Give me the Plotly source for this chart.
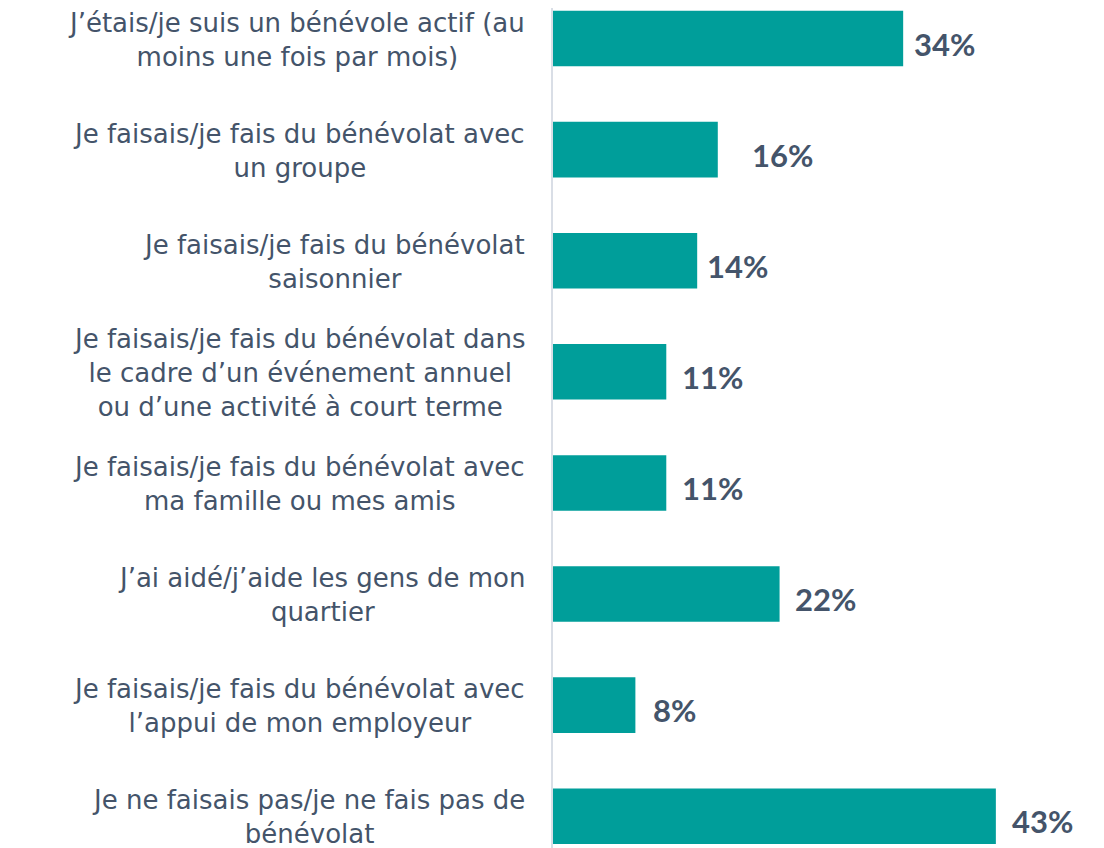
import plotly.graph_objects as go

categories = [
    "J’étais/je suis un bénévole actif (au<br>moins une fois par mois)",
    "Je faisais/je fais du bénévolat avec<br>un groupe",
    "Je faisais/je fais du bénévolat<br>saisonnier",
    "Je faisais/je fais du bénévolat dans<br>le cadre d’un événement annuel<br>ou d’une activité à court terme",
    "Je faisais/je fais du bénévolat avec<br>ma famille ou mes amis",
    "J’ai aidé/j’aide les gens de mon<br>quartier",
    "Je faisais/je fais du bénévolat avec<br>l’appui de mon employeur",
    "Je ne faisais pas/je ne fais pas de<br>bénévolat",
]
values = [34, 16, 14, 11, 11, 22, 8, 43]
value_labels = ["34%", "16%", "14%", "11%", "11%", "22%", "8%", "43%"]

# gap between bar end and value label (px), as in the original
label_gap = [9, 32, 8, 14, 14, 13, 16, 14]

teal = "#009E9A"
slate = "#44546A"

fig = go.Figure(go.Bar(
    x=values, y=categories, orientation="h",
    marker=dict(color=teal, line=dict(width=0)),
    width=0.5, hoverinfo="skip",
))

for c, v, t, g in zip(categories, values, value_labels, label_gap):
    fig.add_annotation(x=v, y=c, text=t, showarrow=False, xanchor="left",
                       xshift=g, yshift=-5,
                       font=dict(family="Lato", size=31, color=slate, weight="bold"))
    fig.add_annotation(x=0, xref="paper", y=c, text=c, showarrow=False,
                       xanchor="right", align="center", xshift=-27, yshift=-1,
                       borderpad=0,
                       font=dict(family="DejaVu Sans", size=26, color=slate))

fig.update_yaxes(categoryorder="array", categoryarray=categories,
                 range=[7.286, -0.2745], showticklabels=False, ticks="",
                 showline=True, linecolor="#D9DEE6", linewidth=2,
                 showgrid=False, zeroline=False)
fig.update_xaxes(range=[0, 53.5], visible=False)

fig.update_layout(
    width=1096, height=840,
    margin=dict(l=545, r=0, t=0, b=0),
    plot_bgcolor="white", paper_bgcolor="white",
    showlegend=False,
)

fig.write_html("out.html")
